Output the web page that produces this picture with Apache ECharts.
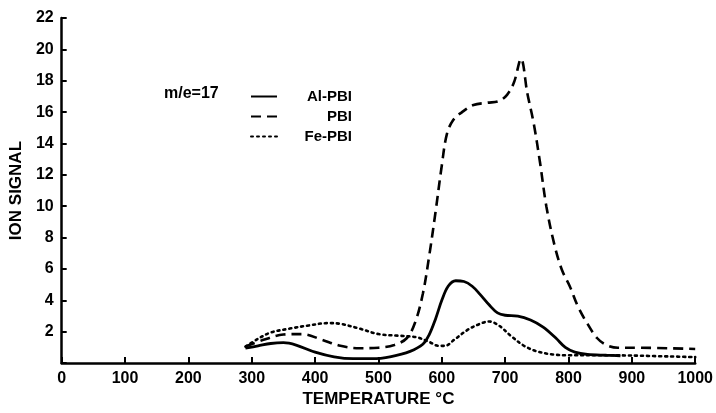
<!DOCTYPE html>
<html>
<head>
<meta charset="utf-8">
<script src="https://cdn.jsdelivr.net/npm/echarts@6/dist/echarts.min.js"></script>
<style>
html,body{margin:0;padding:0;background:#fff;}
#chart{width:716px;height:413px;}
</style>
</head>
<body>
<div id="chart"></div>
<script>
// Data (temperature in °C, ion signal)
const xTicks = [0,100,200,300,400,500,600,700,800,900,1000];
const yTicks = [2,4,6,8,10,12,14,16,18,20,22];
const seriesNames = ['Al-PBI','PBI','Fe-PBI'];
const legendTitle = 'm/e=17';

const alPBI = [[290,0.95],[310,1.1],[330,1.25],[350,1.3],[370,1.15],[400,0.7],[430,0.4],[460,0.28],[490,0.28],[520,0.42],[550,0.75],[570,1.2],[580,1.8],[590,2.8],[600,4.0],[610,4.9],[622,5.25],[635,5.2],[648,4.9],[660,4.4],[675,3.7],[688,3.2],[700,3.05],[720,3.0],[740,2.75],[760,2.3],[780,1.6],[795,1.0],[810,0.7],[830,0.55],[860,0.5],[882,0.47]];

const pbi = [[290,1.05],[320,1.5],[350,1.82],[380,1.85],[410,1.5],[440,1.1],[470,0.95],[500,0.98],[525,1.15],[545,1.6],[558,2.6],[570,4.4],[580,6.8],[590,9.6],[600,12.6],[608,14.6],[618,15.5],[632,16.0],[650,16.45],[672,16.6],[690,16.7],[703,17.1],[714,17.9],[725,19.4],[735,17.2],[745,15.3],[755,12.8],[765,10.0],[778,7.5],[790,5.9],[802,4.9],[815,3.6],[830,2.5],[845,1.6],[860,1.15],[878,0.98],[900,0.98],[1000,0.9]];

const fePBI = [[290,1.05],[310,1.55],[330,1.95],[360,2.2],[390,2.4],[420,2.55],[440,2.5],[470,2.2],[500,1.85],[530,1.75],[560,1.65],[580,1.35],[595,1.1],[605,1.1],[620,1.5],[640,2.1],[660,2.5],[675,2.65],[690,2.4],[710,1.7],[730,1.1],[750,0.75],[775,0.55],[800,0.5],[850,0.5],[900,0.48],[1000,0.38]];

const FONT = 'Liberation Sans';
const chart = echarts.init(document.getElementById('chart'), null, {renderer:'canvas'});
const lineBase = {type:'line', showSymbol:false, symbol:'none', smooth:0.35, animation:false};
chart.setOption({
  backgroundColor:'#fff',
  animation:false,
  grid:{left:58, right:18, top:18, bottom:46},
  xAxis:{
    type:'value', min:0, max:1000, interval:100,
    name:'TEMPERATURE °C', nameLocation:'middle', nameGap:26,
    nameTextStyle:{fontFamily:FONT, fontWeight:'bold', fontSize:17, color:'#000'},
    axisLine:{lineStyle:{color:'#000', width:2.5}},
    axisTick:{inside:true, length:6, lineStyle:{color:'#000', width:2}},
    axisLabel:{fontFamily:FONT, fontWeight:'bold', fontSize:16, color:'#000', margin:7,
      formatter:function(v){ return xTicks.indexOf(v)>=0 ? String(v) : ''; }},
    splitLine:{show:false}
  },
  yAxis:{
    type:'value', min:0, max:22, interval:2,
    name:'ION SIGNAL', nameLocation:'middle', nameGap:35,
    nameTextStyle:{fontFamily:FONT, fontWeight:'bold', fontSize:17, color:'#000'},
    axisLine:{show:true, lineStyle:{color:'#000', width:2.5}},
    axisTick:{show:true, inside:true, length:5, lineStyle:{color:'#000', width:2}},
    axisLabel:{fontFamily:FONT, fontWeight:'bold', fontSize:16, color:'#000', margin:8,
      formatter:function(v){ return yTicks.indexOf(v)>=0 ? String(v) : ''; }},
    splitLine:{show:false}
  },
  legend:{
    orient:'vertical', left:245, top:84, itemWidth:26, itemHeight:14, itemGap:5,
    data:seriesNames,
    itemStyle:{color:'rgba(0,0,0,0)', borderWidth:0, opacity:0},
    textStyle:{fontFamily:FONT, fontWeight:'bold', fontSize:15, color:'#000',
      rich:{a:{fontFamily:FONT, fontWeight:'bold', fontSize:15, color:'#000', width:70, align:'right'}}},
    formatter:function(n){ return '{a|'+n+'}'; },
    selectedMode:false
  },
  graphic:[{
    type:'text', left:164, top:86,
    style:{text:legendTitle, font:'bold 16px "Liberation Sans"', fill:'#000'}
  }],
  series:[
    Object.assign({}, lineBase, {name:seriesNames[0], data:alPBI,
      lineStyle:{color:'#000', width:2.8, type:'solid'}, itemStyle:{color:'#000'}}),
    Object.assign({}, lineBase, {name:seriesNames[1], data:pbi,
      lineStyle:{color:'#000', width:2.6, type:[10,6]}, itemStyle:{color:'#000'}}),
    Object.assign({}, lineBase, {name:seriesNames[2], data:fePBI,
      lineStyle:{color:'#000', width:2.6, type:[2,4], cap:'round'}, itemStyle:{color:'#000'}})
  ]
});
</script>
</body>
</html>
